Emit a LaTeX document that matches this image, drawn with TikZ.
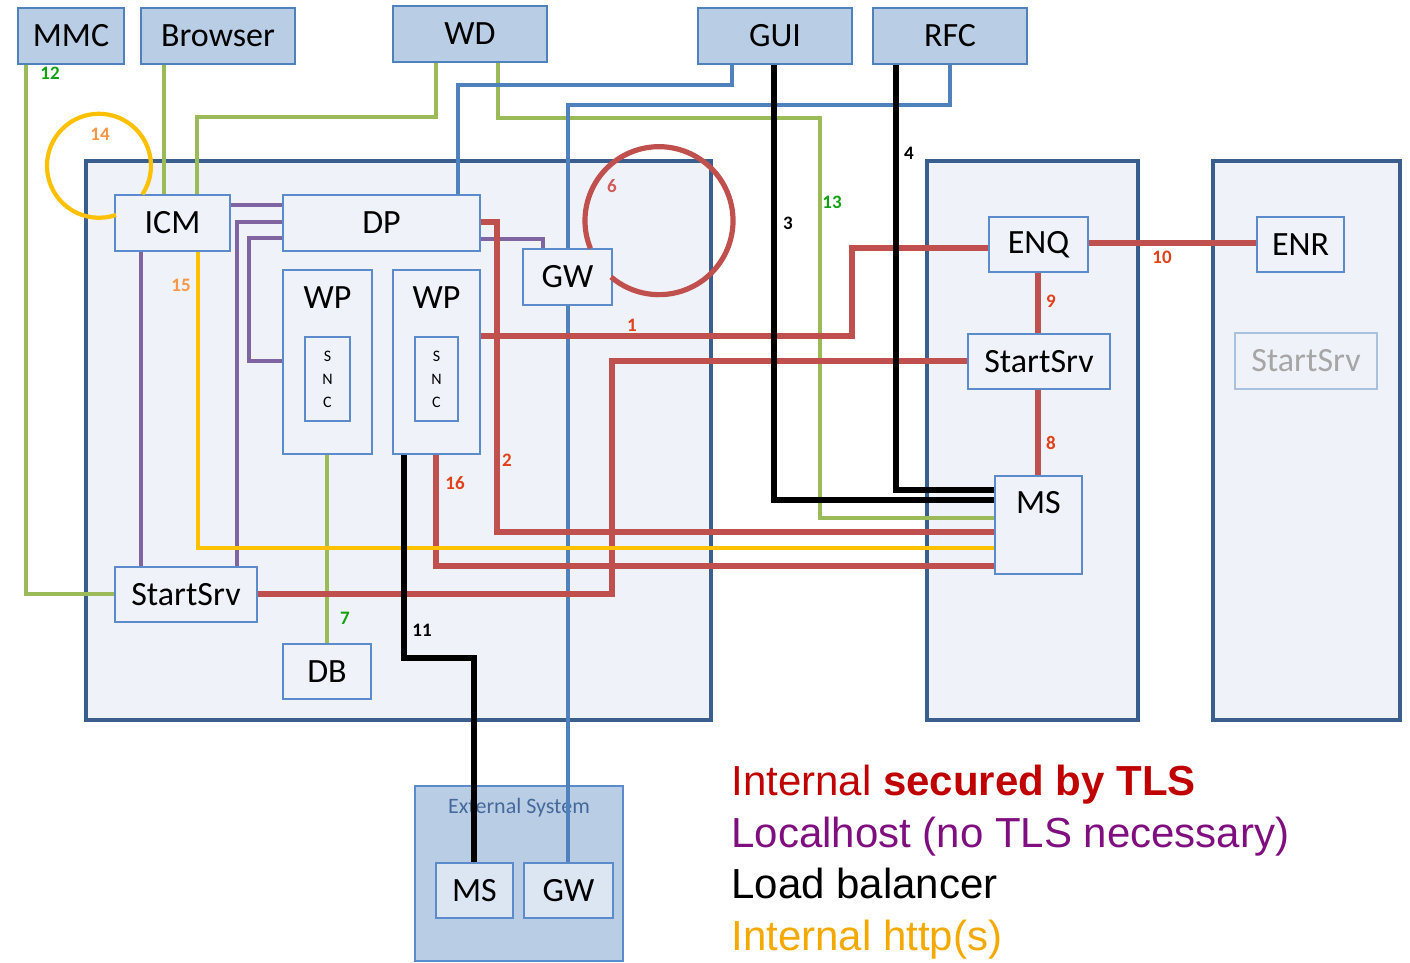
\documentclass[tikz,border=0pt]{standalone}
\usepackage{fontspec}
\setmainfont{Carlito}
\newfontfamily\arialf{Liberation Sans}
\newcommand\ndfont{\fontsize{17}{20}\selectfont}
\newcommand\numfont{\fontsize{9.5}{11}\selectfont\bfseries}
\definecolor{cgreen}{HTML}{9BBB59}
\definecolor{cblue}{HTML}{4F81BD}
\definecolor{cpurple}{HTML}{8064A2}
\definecolor{cred}{HTML}{C0504D}
\definecolor{cyellow}{HTML}{FFC000}
\definecolor{topfill}{HTML}{B9CDE5}
\definecolor{contfill}{HTML}{EFF3F9}
\definecolor{contdraw}{HTML}{3A5F8F}
\definecolor{innerdraw}{HTML}{5B8BCB}
\definecolor{lblred}{HTML}{E0401A}
\definecolor{lblgreen}{HTML}{12A012}
\definecolor{lblorange}{HTML}{F79646}
\definecolor{lblcirc}{HTML}{D05A58}
\definecolor{lgred}{HTML}{C00000}
\definecolor{lgpurple}{HTML}{7F0F7F}
\definecolor{lgorange}{HTML}{F4A900}
\definecolor{extinner}{HTML}{DCE6F2}
\definecolor{exttext}{HTML}{46699B}
\definecolor{greytext}{HTML}{A6A6A6}
\definecolor{greydraw}{HTML}{A9C1DF}
\begin{document}
\begin{tikzpicture}[x=0.5pt,y=-0.5pt,
  topbox/.style={draw=cblue, line width=0.8pt, fill=topfill, inner sep=0pt, font=\ndfont},
  inbox/.style={draw=innerdraw, line width=0.6pt, fill=contfill, inner sep=0pt, font=\ndfont},
  cont/.style={draw=contdraw, line width=1.6pt, fill=contfill, inner sep=0pt},
  extbox/.style={draw=innerdraw, line width=0.8pt, fill=topfill, inner sep=0pt},
  extin/.style={draw=innerdraw, line width=0.6pt, fill=extinner, inner sep=0pt, font=\ndfont},
  gline/.style={cgreen, line width=1.8pt},
  bline/.style={cblue, line width=1.6pt},
  pline/.style={cpurple, line width=1.7pt},
  kline/.style={black, line width=2.7pt},
  rline/.style={cred, line width=2.6pt},
  yline/.style={cyellow, line width=2.1pt},
  num/.style={font=\numfont, inner sep=0pt},
  lg/.style={anchor=base west, inner sep=0pt, font=\arialf\fontsize{21}{25}\selectfont}
]
\useasboundingbox (0,0) rectangle (1410,963);

% containers
\node[cont, minimum width=312.5pt, minimum height=279.5pt] (c1) at (398.5,440.5) {};
\node[cont, minimum width=105.5pt, minimum height=279.5pt] (c2) at (1032.5,440.5) {};
\node[cont, minimum width=93.5pt, minimum height=279.5pt] (c3) at (1306.5,440.5) {};
\node[extbox, minimum width=104pt, minimum height=87.5pt] (ext) at (519,873.5) {};
\node[font=\fontsize{11}{13}\selectfont, text=exttext, inner sep=0pt] (extlbl) at (519,808) {External System};

% top boxes
\node[topbox, minimum width=53pt, minimum height=28pt] (mmc) at (71,36) {MMC};
\node[topbox, minimum width=77pt, minimum height=28pt] (browser) at (218,36) {Browser};
\node[topbox, minimum width=77pt, minimum height=28pt] (wd) at (470,34) {WD};
\node[topbox, minimum width=77pt, minimum height=28pt] (gui) at (775,36) {GUI};
\node[topbox, minimum width=77pt, minimum height=28pt] (rfc) at (950,36) {RFC};

% inner nodes
\node[inbox, minimum width=57.5pt, minimum height=28pt] (icm) at (172.5,223) {ICM};
\node[inbox, minimum width=98.5pt, minimum height=28pt] (dp) at (381.5,223) {DP};
\node[inbox, minimum width=44.5pt, minimum height=28pt] (gw) at (567.5,277) {GW};
\node[inbox, minimum width=44.5pt, minimum height=92pt] (wp1) at (327.5,362) {};
\node[inbox, minimum width=43.5pt, minimum height=92pt] (wp2) at (436.5,362) {};
\node[font=\ndfont, inner sep=0pt] (wp1t) at (wp1.north |- 0,298) {WP};
\node[font=\ndfont, inner sep=0pt] (wp2t) at (wp2.north |- 0,298) {WP};
\node[inbox, minimum width=22.5pt, minimum height=42pt, align=center, font=\fontsize{8}{11.5}\selectfont] (snc1) at (327.5,379) {S\\N\\C};
\node[inbox, minimum width=21.5pt, minimum height=42pt, align=center, font=\fontsize{8}{11.5}\selectfont] (snc2) at (436.5,379) {S\\N\\C};
\node[inbox, minimum width=71pt, minimum height=27.5pt] (ssl) at (186,594.5) {StartSrv};
\node[inbox, minimum width=44pt, minimum height=27.5pt] (db) at (327,671.5) {DB};
\node[inbox, minimum width=49.5pt, minimum height=27.5pt] (enq) at (1038.5,244.5) {ENQ};
\node[inbox, minimum width=71pt, minimum height=27.5pt] (ssm) at (1039,361.5) {StartSrv};
\node[inbox, minimum width=43.5pt, minimum height=49pt] (ms) at (1038.5,525) {};
\node[font=\ndfont, inner sep=0pt] (mst) at (ms.north |- 0,503) {MS};
\node[inbox, minimum width=43.5pt, minimum height=27.5pt] (enr) at (1300.5,244.5) {ENR};
\node[inbox, draw=greydraw, text=greytext, minimum width=71pt, minimum height=28pt] (ssr) at (1306,361) {StartSrv};
\node[extin, minimum width=38.5pt, minimum height=27.5pt] (ems) at (474.5,890.5) {MS};
\node[extin, minimum width=44.5pt, minimum height=27.5pt] (egw) at (568.5,890.5) {GW};

% green
\draw[gline] (mmc.south -| 26,0) |- (ssl.west |- 0,594);
\draw[gline] (browser.south -| 164,0) -- (icm.north -| 164,0);
\draw[gline] (wd.south -| 436,0) |- (197,117) -- (icm.north -| 197,0);
\draw[gline] (wd.south -| 498,0) |- (820,118) |- (ms.west |- 0,518);
\draw[gline] (wp1.south -| 327,0) -- (db.north -| 327,0);

% blue
\draw[bline] (gui.south -| 732,0) |- (458,85) -- (dp.north -| 458,0);
\draw[bline] (rfc.south -| 950,0) |- (568,105) -- (gw.north -| 568,0);
\draw[bline] (gw.south -| 568,0) -- (egw.north -| 568,0);

% purple
\draw[pline] (icm.east |- 0,205) -- (dp.west |- 0,205);
\draw[pline] (dp.west |- 0,222) -| (ssl.north -| 237,0);
\draw[pline] (dp.west |- 0,238) -| (249,361) -- (wp1.west |- 0,361);
\draw[pline] (dp.east |- 0,239) -| (gw.north -| 543,0);
\draw[pline] (icm.south -| 141,0) -- (ssl.north -| 141,0);

% red
\draw[rline] (wp2.east |- 0,336) -| (852,248) -- (enq.west |- 0,248);
\draw[rline] (dp.east |- 0,222) -| (497,532) -- (ms.west |- 0,532);
\draw[rline] (wp2.south -| 436,0) |- (ms.west |- 0,566);
\draw[rline] (ssl.east |- 0,594) -| (612,361) -- (ssm.west |- 0,361);
\draw[rline] (enq.south -| 1038,0) -- (ssm.north -| 1038,0);
\draw[rline] (ssm.south -| 1038,0) -- (ms.north -| 1038,0);
\draw[rline] (enq.east |- 0,243) -- (enr.west |- 0,243);
\draw[rline] (gw.north -| 590.4,0) arc[start angle=158, end angle=490.4, radius=74];

% yellow
\draw[yline] (icm.south -| 198,0) |- (ms.west |- 0,548);
\draw[yline] (icm.north -| 142.4,0) arc[start angle=33.4, end angle=-289.1, radius=52];

% black
\draw[kline] (gui.south -| 774,0) |- (ms.west |- 0,500);
\draw[kline] (rfc.south -| 896,0) |- (ms.west |- 0,490);
\draw[kline] (wp2.south -| 404,0) |- (474,658) -- (ems.north -| 474,0);

% number labels
\node[num, text=lblgreen] (n12) at (50,73) {12};
\node[num, text=lblgreen] (n13) at (832,202) {13};
\node[num, text=lblgreen] (n7) at (345,618) {7};
\node[num] (n3) at (788,223) {3};
\node[num] (n4) at (909,153) {4};
\node[num] (n11) at (422,630) {11};
\node[num, text=lblred] (n1) at (632,325) {1};
\node[num, text=lblred] (n2) at (507,460) {2};
\node[num, text=lblred] (n16) at (455,483) {16};
\node[num, text=lblred] (n9) at (1051,301) {9};
\node[num, text=lblred] (n8) at (1051,443) {8};
\node[num, text=lblred] (n10) at (1162,257) {10};
\node[num, text=lblcirc] (n6) at (612,186) {6};
\node[num, text=lblorange] (n14) at (100,134) {14};
\node[num, text=lblorange] (n15) at (181,285) {15};

% legend
\node[lg, text=lgred] (lg1) at (731,795) {Internal \textbf{secured by TLS}};
\node[lg, text=lgpurple] (lg2) at (731,847) {Localhost (no TLS necessary)};
\node[lg, text=black] (lg3) at (731,898) {Load balancer};
\node[lg, text=lgorange] (lg4) at (731,950) {Internal http(s)};
\end{tikzpicture}
\end{document}
